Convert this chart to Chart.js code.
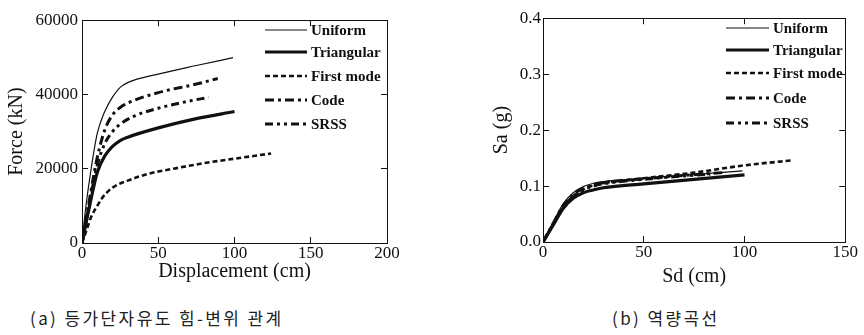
<!DOCTYPE html>
<html><head><meta charset="utf-8">
<script src="https://cdn.jsdelivr.net/npm/chart.js@4/dist/chart.umd.min.js"></script>
<style>
html,body{margin:0;padding:0;background:#fff;width:864px;height:335px;overflow:hidden;}
#c1{position:absolute;left:0;top:0;}
#c2{position:absolute;left:432px;top:0;}
.cap{position:absolute;font-family:"Noto Sans CJK KR";font-size:17px;color:#222;white-space:nowrap;top:305px;letter-spacing:2.4px;}
</style></head><body>
<canvas id="c1" width="432" height="300"></canvas>
<canvas id="c2" width="432" height="300"></canvas>
<div class="cap" style="left:30px">(a) 등가단자유도 힘-변위 관계</div>
<div class="cap" style="left:612px">(b) 역량곡선</div>
<script>
// ---- series names ----
const seriesNames = ['Uniform', 'Triangular', 'First mode', 'Code', 'SRSS'];

// ---- (a) Force - displacement ----
const fdUniformX    = [0, 2, 6, 10, 15, 20, 25, 30, 50, 75, 99];
const fdUniformY    = [0, 8000, 20000, 29500, 35500, 39300, 41900, 43200, 45500, 47800, 49900];
const fdTriangularX = [0, 5, 10, 15, 20, 25, 30, 50, 75, 100];
const fdTriangularY = [0, 10000, 19000, 23500, 26000, 27600, 28500, 31000, 33500, 35400];
const fdFirstModeX  = [0, 3, 6, 10, 13, 20, 30, 45, 60, 80, 100, 124];
const fdFirstModeY  = [0, 3500, 7000, 10000, 12000, 14900, 16800, 18800, 20000, 21500, 22700, 24100];
const fdCodeX       = [0, 5, 10, 15, 20, 25, 30, 50, 75, 89];
const fdCodeY       = [0, 12000, 23000, 30500, 34500, 36500, 37700, 40500, 42800, 44300];
const fdSrssX       = [0, 5, 10, 15, 20, 25, 35, 50, 70, 83];
const fdSrssY       = [0, 11000, 21000, 26800, 30000, 32000, 34300, 36300, 38200, 39200];

// ---- (b) Capacity curves ----
const csUniformX    = [0, 5, 10, 15, 20, 25, 30, 50, 75, 99];
const csUniformY    = [0, 0.035, 0.068, 0.088, 0.099, 0.105, 0.108, 0.114, 0.121, 0.127];
const csTriangularX = [0, 5, 10, 15, 20, 25, 30, 50, 75, 100];
const csTriangularY = [0, 0.030, 0.060, 0.078, 0.088, 0.093, 0.097, 0.104, 0.112, 0.120];
const csFirstModeX  = [0, 5, 10, 15, 20, 25, 30, 50, 75, 100, 124];
const csFirstModeY  = [0, 0.032, 0.062, 0.082, 0.094, 0.101, 0.105, 0.114, 0.124, 0.137, 0.146];
const csCodeX       = [0, 5, 10, 15, 20, 25, 30, 50, 70, 89];
const csCodeY       = [0, 0.033, 0.065, 0.085, 0.096, 0.102, 0.106, 0.113, 0.119, 0.124];
const csSrssX       = [0, 5, 10, 15, 20, 25, 30, 50, 70, 83];
const csSrssY       = [0, 0.031, 0.061, 0.081, 0.093, 0.100, 0.104, 0.112, 0.118, 0.121];

// ---- tick values ----
const fdXTicks = [0, 50, 100, 150, 200];
const fdYTicks = [0, 20000, 40000, 60000];
const csXTicks = [0, 50, 100, 150];
const csYTicks = [0, 0.1, 0.2, 0.3, 0.4];

// ---- styles ----
const lineStyles = [
  {w: 1.2, dash: []},
  {w: 3.2, dash: []},
  {w: 2.6, dash: [5, 3]},
  {w: 3.0, dash: [9, 4, 3, 4]},
  {w: 3.0, dash: [8, 4, 3, 4, 3, 4]}
];
const INK = '#111';
const SERIF = '"Liberation Serif", "Times New Roman", serif';

function pairs(xs, ys) { return xs.map((x, i) => ({x: x, y: ys[i]})); }

function makeDatasets(list) {
  return list.map((d, i) => ({
    label: seriesNames[i],
    data: pairs(d[0], d[1]),
    borderColor: INK,
    backgroundColor: INK,
    borderWidth: lineStyles[i].w,
    borderDash: lineStyles[i].dash,
    pointRadius: 0,
    fill: false,
    cubicInterpolationMode: 'monotone'
  }));
}

function legendPlugin(cfg) {
  return {
    id: 'innerLegend',
    afterDraw(chart) {
      const ctx = chart.ctx;
      ctx.save();
      chart.data.datasets.forEach((ds, i) => {
        const y = cfg.rows[i];
        ctx.beginPath();
        ctx.strokeStyle = ds.borderColor;
        ctx.lineWidth = ds.borderWidth;
        ctx.setLineDash(ds.borderDash || []);
        ctx.moveTo(cfg.x1, y);
        ctx.lineTo(cfg.x2, y);
        ctx.stroke();
        ctx.setLineDash([]);
        ctx.fillStyle = INK;
        ctx.font = 'bold 15px ' + SERIF;
        ctx.textBaseline = 'middle';
        ctx.textAlign = 'left';
        ctx.fillText(ds.label, cfg.tx, y + 1);
      });
      ctx.restore();
    }
  };
}

function axisSet(o) {
  const tickFont = {family: SERIF, size: 17};
  const titleFont = {family: SERIF, size: 20};
  const gridCommon = {drawOnChartArea: false, drawTicks: true, tickLength: -6, color: INK, lineWidth: 1};
  const border = {display: true, color: INK, width: 1};
  return {
    x: {
      type: 'linear', position: 'bottom', min: o.xMin, max: o.xMax,
      afterBuildTicks: s => { s.ticks = o.xTicks.map(v => ({value: v})); },
      ticks: {font: tickFont, color: INK, padding: 6, maxRotation: 0, callback: v => String(v)},
      grid: gridCommon, border: border,
      title: {display: true, text: o.xTitle, font: titleFont, color: INK, padding: {top: 0, bottom: o.xTitlePad}},
      afterFit: s => { s.height = o.bottomH; }
    },
    x2: {
      type: 'linear', position: 'top', min: o.xMin, max: o.xMax,
      afterBuildTicks: s => { s.ticks = o.xTicks.map(v => ({value: v})); },
      ticks: {display: false},
      grid: gridCommon, border: border,
      afterFit: s => { s.height = o.topH; }
    },
    y: {
      type: 'linear', position: 'left', min: o.yMin, max: o.yMax,
      afterBuildTicks: s => { s.ticks = o.yTicks.map(v => ({value: v})); },
      ticks: {font: tickFont, color: INK, padding: o.yTickPad, callback: o.yFmt},
      grid: gridCommon, border: border,
      title: {display: true, text: o.yTitle, font: titleFont, color: INK, padding: {top: o.yTitlePad, bottom: 0}},
      afterFit: s => { s.width = o.leftW; }
    },
    y2: {
      type: 'linear', position: 'right', min: o.yMin, max: o.yMax,
      afterBuildTicks: s => { s.ticks = o.yTicks.map(v => ({value: v})); },
      ticks: {display: false},
      grid: gridCommon, border: border,
      afterFit: s => { s.width = o.rightW; }
    }
  };
}

const commonOpts = {
  responsive: false, animation: false, devicePixelRatio: 1,
  plugins: {legend: {display: false}, tooltip: {enabled: false}},
  elements: {line: {borderCapStyle: 'butt'}}
};

new Chart(document.getElementById('c1'), {
  type: 'line',
  data: {datasets: makeDatasets([
    [fdUniformX, fdUniformY], [fdTriangularX, fdTriangularY], [fdFirstModeX, fdFirstModeY],
    [fdCodeX, fdCodeY], [fdSrssX, fdSrssY]
  ])},
  options: Object.assign({}, commonOpts, {
    layout: {padding: 0},
    scales: axisSet({
      xMin: 0, xMax: 200, xTicks: fdXTicks, xTitle: 'Displacement (cm)', xTitlePad: 16,
      yMin: 0, yMax: 60000, yTicks: fdYTicks, yTitle: 'Force (kN)', yTitlePad: 5,
      yFmt: v => String(v), yTickPad: 10,
      leftW: 82, rightW: 45, topH: 12, bottomH: 57
    })
  }),
  plugins: [legendPlugin({x1: 265, x2: 307, tx: 311, rows: [30, 52, 76, 100, 124]})]
});

new Chart(document.getElementById('c2'), {
  type: 'line',
  data: {datasets: makeDatasets([
    [csUniformX, csUniformY], [csTriangularX, csTriangularY], [csFirstModeX, csFirstModeY],
    [csCodeX, csCodeY], [csSrssX, csSrssY]
  ])},
  options: Object.assign({}, commonOpts, {
    layout: {padding: {left: 50, top: 0, right: 0, bottom: 0}},
    scales: axisSet({
      xMin: 0, xMax: 150, xTicks: csXTicks, xTitle: 'Sd (cm)', xTitlePad: 11,
      yMin: 0, yMax: 0.4, yTicks: csYTicks, yTitle: 'Sa (g)', yTitlePad: 8,
      yFmt: v => Number(v).toFixed(1), yTickPad: 8,
      leftW: 61, rightW: 15, topH: 11, bottomH: 58
    })
  }),
  plugins: [legendPlugin({x1: 294, x2: 337, tx: 341, rows: [28, 50, 73, 98, 123]})]
});
</script>
</body></html>
